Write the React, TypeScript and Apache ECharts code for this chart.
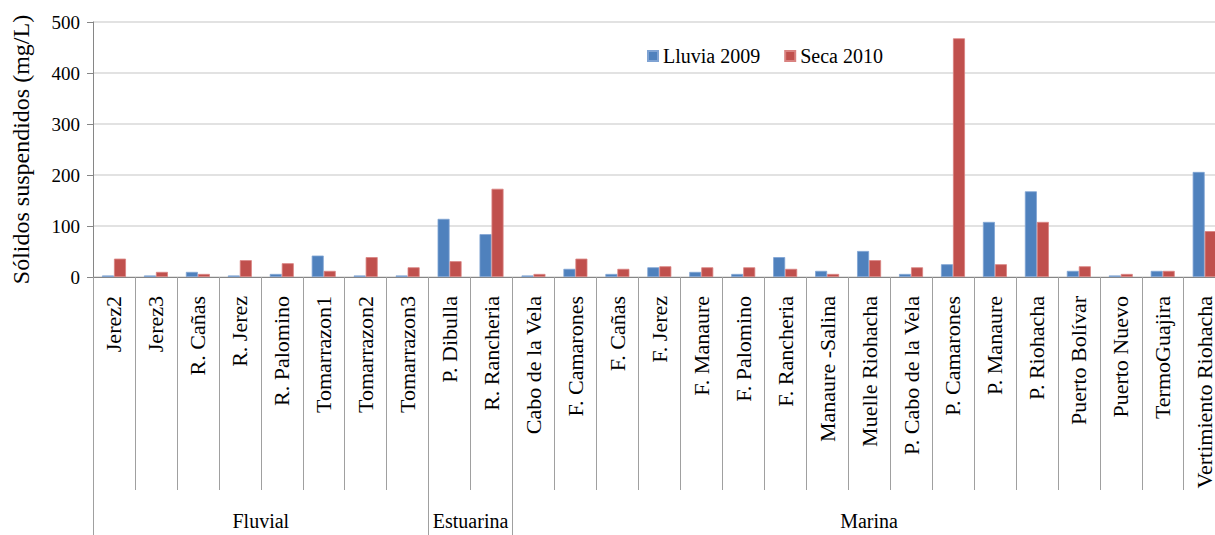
import React, { useEffect, useRef } from "react";
import * as echarts from "echarts";

const categories = [
  "Jerez2", "Jerez3", "R. Cañas", "R. Jerez", "R. Palomino", "Tomarrazon1", "Tomarrazon2", "Tomarrazon3",
  "P. Dibulla", "R. Rancheria",
  "Cabo de la Vela", "F. Camarones", "F. Cañas", "F. Jerez", "F. Manaure", "F. Palomino", "F. Rancheria",
  "Manaure -Salina", "Muelle Riohacha", "P. Cabo de la Vela", "P. Camarones", "P. Manaure", "P. Riohacha",
  "Puerto Bolívar", "Puerto Nuevo", "TermoGuajira", "Vertimiento Riohacha",
];
const lluvia2009 = [3, 3, 10, 3, 6, 42, 3, 3, 114, 84, 3, 16, 6, 19, 10, 6, 39, 12, 51, 6, 25, 108, 168, 12, 3, 12, 206];
const seca2010 = [36, 10, 6, 33, 27, 12, 39, 19, 31, 173, 6, 36, 16, 21, 19, 19, 16, 6, 33, 19, 468, 25, 108, 21, 6, 12, 90];
const groups = ["Fluvial", "Estuarina", "Marina"];
const groupSizes = [8, 2, 17];
const yTicks = { min: 0, max: 500, interval: 100 };

const FONT = "Liberation Serif";

export default function App() {
  const ref = useRef<HTMLDivElement>(null);
  useEffect(() => {
    if (!ref.current) return;
    const chart = echarts.init(ref.current, undefined, { renderer: "svg" });
    const bounds: number[] = [0];
    const centers: number[] = [];
    groupSizes.forEach((s) => {
      const start = bounds[bounds.length - 1];
      centers.push(start + s / 2);
      bounds.push(start + s);
    });
    const total = categories.length;
    chart.setOption({
      animation: false,
      textStyle: { fontFamily: FONT, color: "#000" },
      legend: {
        data: ["Lluvia 2009", "Seca 2010"],
        left: 647,
        top: 46,
        padding: 0,
        itemWidth: 10,
        itemHeight: 10,
        itemGap: 24,
        icon: "rect",
        textStyle: { fontFamily: FONT, fontSize: 20, color: "#000" },
      },
      grid: { left: 93, top: 22, height: 255, width: 41.95 * total, containLabel: false },
      xAxis: [
        {
          type: "category",
          data: categories,
          axisLine: { show: true, lineStyle: { color: "#868686", width: 1 } },
          axisTick: { show: true, interval: 0, length: 213, lineStyle: { color: "#a0a0a0", width: 1 } },
          axisLabel: {
            interval: 0,
            rotate: 90,
            margin: 19,
            fontFamily: FONT,
            fontSize: 22,
            color: "#000",
          },
        },
        {
          type: "value",
          min: 0,
          max: total,
          position: "bottom",
          axisLine: { show: false },
          splitLine: { show: false },
          axisTick: {
            show: true,
            customValues: bounds,
            length: 258,
            lineStyle: { color: "#a0a0a0", width: 1 },
          },
          axisLabel: {
            customValues: centers,
            margin: 234,
            fontFamily: FONT,
            fontSize: 20,
            color: "#000",
            formatter: (v: number) => {
              const i = centers.findIndex((c) => Math.abs(c - v) < 1e-6);
              return i >= 0 ? groups[i] : "";
            },
          },
        },
      ],
      yAxis: {
        type: "value",
        min: yTicks.min,
        max: yTicks.max,
        interval: yTicks.interval,
        name: "Sólidos suspendidos (mg/L)",
        nameLocation: "middle",
        nameGap: 60,
        nameTextStyle: { fontFamily: FONT, fontSize: 24, color: "#000" },
        axisLine: { show: true, lineStyle: { color: "#868686", width: 1 } },
        axisTick: { show: true, length: 6, lineStyle: { color: "#868686" } },
        axisLabel: { margin: 13, fontFamily: FONT, fontSize: 19, color: "#000" },
        splitLine: { show: true, lineStyle: { color: "#d9d9d9", width: 1.5 } },
      },
      series: [
        {
          name: "Lluvia 2009",
          type: "bar",
          data: lluvia2009,
          barWidth: 12,
          barGap: "0%",
          itemStyle: { color: "#4F81BD", borderColor: "#7fa3d3", borderWidth: 0.8 },
        },
        {
          name: "Seca 2010",
          type: "bar",
          data: seca2010,
          barWidth: 12,
          barGap: "0%",
          itemStyle: { color: "#C0504D", borderColor: "#d98280", borderWidth: 0.8 },
        },
      ],
    });
    return () => chart.dispose();
  }, []);
  return (
    <div style={{ position: "fixed", left: 0, top: 0, width: 1215, height: 535, overflow: "hidden", background: "#fff" }}>
      <div ref={ref} style={{ width: 1240, height: 535 }} />
    </div>
  );
}
